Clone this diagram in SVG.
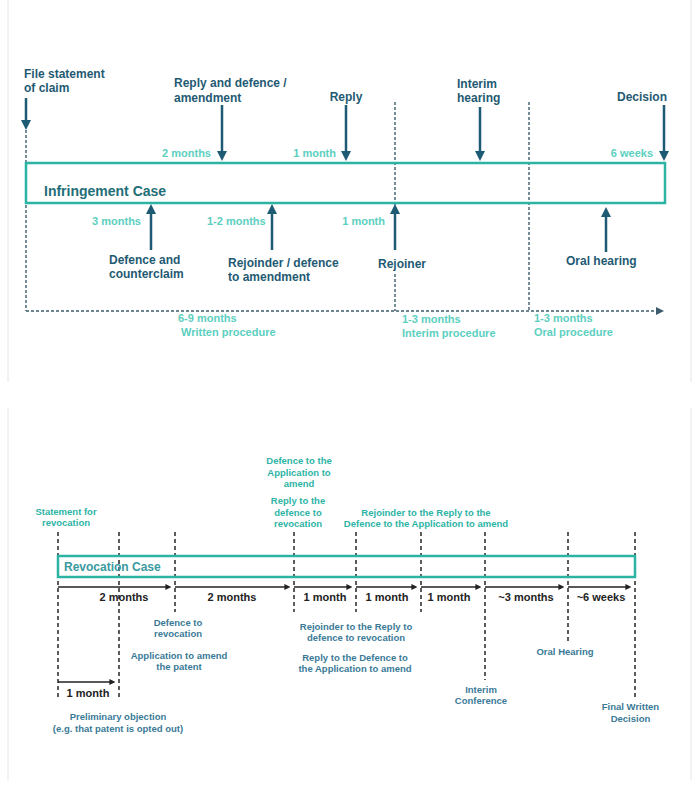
<svg xmlns="http://www.w3.org/2000/svg" width="700" height="793" viewBox="0 0 700 793">
<style>
text{font-family:"Liberation Sans",Arial,sans-serif;font-weight:bold}
.dk{fill:#1f5a73;font-size:12px}
.lt{fill:#5ccfc0;font-size:11px}
.tl{fill:#2db4a5;font-size:9.5px;text-anchor:middle}
.bl{fill:#3a7a97;font-size:9.5px;text-anchor:middle}
.du{fill:#222;font-size:11px;text-anchor:middle}
.case{fill:none;stroke:#2bb3a3;stroke-width:2.5}
.arr{stroke:#1d5b74;stroke-width:2.5;fill:none}
.dsh{stroke:#3d5d6e;stroke-width:1.4;stroke-dasharray:3 2;fill:none}
.vd{stroke:#333;stroke-width:1.6;stroke-dasharray:4 3;fill:none}
.ba{stroke:#222;stroke-width:1.5;fill:none}
.panel{stroke:#e6e6e6;stroke-width:1;fill:none}
</style>
<defs>
<marker id="hd" viewBox="0 0 10 10" refX="5" refY="5" markerWidth="10" markerHeight="11" markerUnits="userSpaceOnUse" orient="auto"><path d="M0,0 L10,5 L0,10 z" fill="#1d5b74"/></marker>
<marker id="hs" viewBox="0 0 10 10" refX="5" refY="5" markerWidth="8" markerHeight="8" markerUnits="userSpaceOnUse" orient="auto"><path d="M0,0 L10,5 L0,10 z" fill="#3d5d6e"/></marker>
<marker id="hb" viewBox="0 0 10 10" refX="6" refY="5" markerWidth="6" markerHeight="6" markerUnits="userSpaceOnUse" orient="auto"><path d="M0,0 L10,5 L0,10 z" fill="#222"/></marker>
</defs>
<rect width="700" height="793" fill="#fff"/>
<g id="panels">
<line class="panel" x1="8" y1="0" x2="8" y2="382"/>
<line class="panel" x1="691" y1="0" x2="691" y2="382"/>
<line class="panel" x1="8" y1="408" x2="8" y2="780"/>
<line class="panel" x1="691" y1="408" x2="691" y2="780"/>
</g>
<!-- TOP: Infringement -->
<g id="connectors-top">
<line class="dsh" x1="26" y1="130" x2="26" y2="311"/>
<line class="dsh" x1="26" y1="311" x2="660" y2="311" marker-end="url(#hs)"/>
<line class="dsh" x1="395" y1="102" x2="395" y2="252"/>
<line class="dsh" x1="395" y1="274" x2="395" y2="311"/>
<line class="dsh" x1="529" y1="102" x2="529" y2="311"/>
</g>
<g id="infringement-case">
<rect class="case" x="26" y="163" width="639" height="40"/>
<text x="44" y="196" style="font-size:14px;fill:#1f6e78">Infringement Case</text>
</g>
<g id="file-statement">
<line class="arr" x1="26" y1="98" x2="26" y2="125" marker-end="url(#hd)"/>
<text class="dk" x="24" y="78">File statement</text>
<text class="dk" x="24" y="92">of claim</text>
</g>
<g id="reply-defence">
<line class="arr" x1="222" y1="105" x2="222" y2="156" marker-end="url(#hd)"/>
<text class="dk" x="174" y="87">Reply and defence /</text>
<text class="dk" x="174" y="102">amendment</text>
<text class="lt" x="211" y="157" text-anchor="end">2 months</text>
</g>
<g id="reply">
<line class="arr" x1="346" y1="105" x2="346" y2="156" marker-end="url(#hd)"/>
<text class="dk" x="346" y="101" text-anchor="middle">Reply</text>
<text class="lt" x="336" y="157" text-anchor="end">1 month</text>
</g>
<g id="interim-hearing">
<line class="arr" x1="480" y1="107" x2="480" y2="156" marker-end="url(#hd)"/>
<text class="dk" x="457" y="88">Interim</text>
<text class="dk" x="457" y="102">hearing</text>
</g>
<g id="decision">
<line class="arr" x1="664" y1="105" x2="664" y2="156" marker-end="url(#hd)"/>
<text class="dk" x="667" y="101" text-anchor="end">Decision</text>
<text class="lt" x="653" y="157" text-anchor="end">6 weeks</text>
</g>
<g id="defence-counterclaim">
<line class="arr" x1="151" y1="250" x2="151" y2="209" marker-end="url(#hd)"/>
<text class="lt" x="141" y="225" text-anchor="end">3 months</text>
<text class="dk" x="109" y="264">Defence and</text>
<text class="dk" x="109" y="278">counterclaim</text>
</g>
<g id="rejoinder-defence">
<line class="arr" x1="272" y1="250" x2="272" y2="209" marker-end="url(#hd)"/>
<text class="lt" x="207" y="225">1-2 months</text>
<text class="dk" x="228" y="267">Rejoinder / defence</text>
<text class="dk" x="228" y="281">to amendment</text>
</g>
<g id="rejoiner">
<line class="arr" x1="395" y1="250" x2="395" y2="209" marker-end="url(#hd)"/>
<text class="lt" x="385" y="225" text-anchor="end">1 month</text>
<text class="dk" x="378" y="268">Rejoiner</text>
</g>
<g id="oral-hearing">
<line class="arr" x1="606" y1="252" x2="606" y2="212" marker-end="url(#hd)"/>
<text class="dk" x="566" y="265">Oral hearing</text>
</g>
<g id="phases">
<text class="lt" x="178" y="322">6-9 months</text>
<text class="lt" x="181" y="336">Written procedure</text>
<text class="lt" x="402" y="323">1-3 months</text>
<text class="lt" x="402" y="337">Interim procedure</text>
<text class="lt" x="534" y="322">1-3 months</text>
<text class="lt" x="534" y="336">Oral procedure</text>
</g>
<!-- BOTTOM: Revocation -->
<g id="connectors-bottom">
<line class="vd" x1="58" y1="532" x2="58" y2="698"/>
<line class="vd" x1="119" y1="532" x2="119" y2="698"/>
<line class="vd" x1="175" y1="532" x2="175" y2="612"/>
<line class="vd" x1="294" y1="532" x2="294" y2="612"/>
<line class="vd" x1="356" y1="532" x2="356" y2="612"/>
<line class="vd" x1="421" y1="532" x2="421" y2="612"/>
<line class="vd" x1="485" y1="532" x2="485" y2="680"/>
<line class="vd" x1="568" y1="532" x2="568" y2="643"/>
<line class="vd" x1="635" y1="532" x2="635" y2="697"/>
<line class="ba" x1="58" y1="587" x2="169" y2="587" marker-end="url(#hb)"/>
<line class="ba" x1="175" y1="587" x2="288" y2="587" marker-end="url(#hb)"/>
<line class="ba" x1="294" y1="587" x2="350" y2="587" marker-end="url(#hb)"/>
<line class="ba" x1="356" y1="587" x2="415" y2="587" marker-end="url(#hb)"/>
<line class="ba" x1="421" y1="587" x2="479" y2="587" marker-end="url(#hb)"/>
<line class="ba" x1="485" y1="587" x2="562" y2="587" marker-end="url(#hb)"/>
<line class="ba" x1="568" y1="587" x2="629" y2="587" marker-end="url(#hb)"/>
<line class="ba" x1="58" y1="682" x2="113" y2="682" marker-end="url(#hb)"/>
</g>
<g id="revocation-case">
<rect class="case" x="58" y="556" width="577" height="21"/>
<text x="64" y="571" style="font-size:12px;fill:#3a9aa0">Revocation Case</text>
</g>
<g id="durations">
<text class="du" x="124" y="601">2 months</text>
<text class="du" x="232" y="601">2 months</text>
<text class="du" x="325" y="601">1 month</text>
<text class="du" x="387" y="601">1 month</text>
<text class="du" x="449" y="601">1 month</text>
<text class="du" x="526" y="601">~3 months</text>
<text class="du" x="601" y="601">~6 weeks</text>
<text class="du" x="88" y="697">1 month</text>
</g>
<g id="statement-revocation">
<text class="tl" x="66" y="514.5">Statement for</text>
<text class="tl" x="66" y="525.5">revocation</text>
</g>
<g id="defence-application">
<text class="tl" x="299" y="463.5">Defence to the</text>
<text class="tl" x="299" y="475.5">Application to</text>
<text class="tl" x="299" y="486.5">amend</text>
</g>
<g id="reply-defence-revocation">
<text class="tl" x="298" y="503.5">Reply to the</text>
<text class="tl" x="298" y="515.5">defence to</text>
<text class="tl" x="298" y="526.5">revocation</text>
</g>
<g id="rejoinder-reply-defence-application">
<text class="tl" x="426" y="515.5">Rejoinder to the Reply to the</text>
<text class="tl" x="426" y="526.5">Defence to the Application to amend</text>
</g>
<g id="defence-revocation">
<text class="bl" x="178" y="625.5">Defence to</text>
<text class="bl" x="178" y="636.5">revocation</text>
</g>
<g id="application-amend">
<text class="bl" x="179" y="658.5">Application to amend</text>
<text class="bl" x="179" y="669.5">the patent</text>
</g>
<g id="rejoinder-reply">
<text class="bl" x="356" y="629.5">Rejoinder to the Reply to</text>
<text class="bl" x="356" y="640.5">defence to revocation</text>
</g>
<g id="reply-defence-application">
<text class="bl" x="355" y="660.5">Reply to the Defence to</text>
<text class="bl" x="355" y="671.5">the Application to amend</text>
</g>
<g id="preliminary-objection">
<text class="bl" x="118" y="719.5">Preliminary objection</text>
<text class="bl" x="118" y="731.5">(e.g. that patent is opted out)</text>
</g>
<g id="interim-conference">
<text class="bl" x="481" y="692.5">Interim</text>
<text class="bl" x="481" y="703.5">Conference</text>
</g>
<g id="oral-hearing-rev">
<text class="bl" x="565" y="654.5">Oral Hearing</text>
</g>
<g id="final-decision">
<text class="bl" x="630.5" y="709.5">Final Written</text>
<text class="bl" x="630.5" y="721.5">Decision</text>
</g>
</svg>
